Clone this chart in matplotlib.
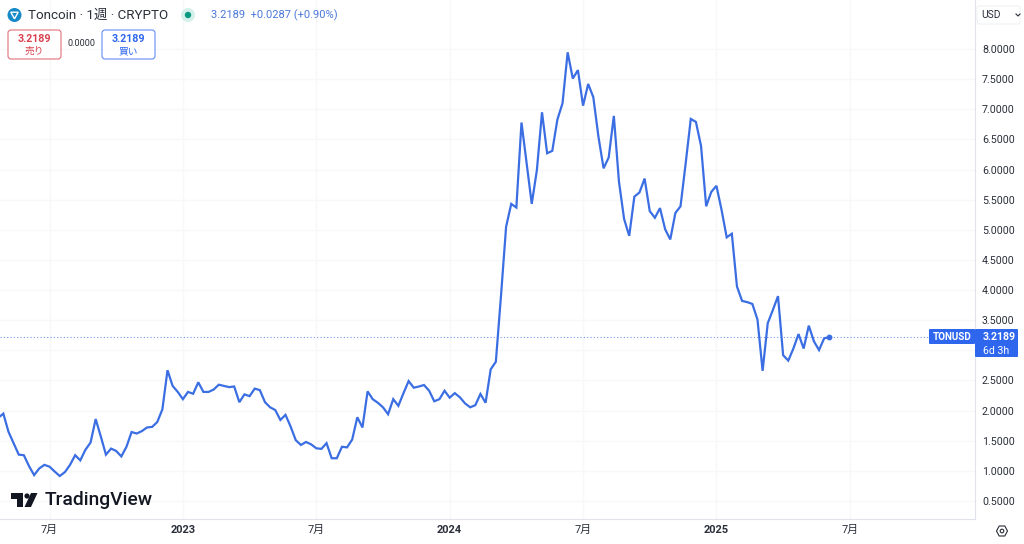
"""Toncoin weekly price chart, TradingView look."""

import matplotlib
matplotlib.use("Agg")
import matplotlib.pyplot as plt
from matplotlib.patches import Circle, FancyBboxPatch, Polygon

plt.rcParams["font.family"] = ["Roboto", "Noto Sans CJK JP", "DejaVu Sans"]

# weekly close, one value per bar
week_close = [
    1.88, 1.95, 1.65, 1.46, 1.27, 1.26, 1.08, 0.93, 1.04, 1.10,
    1.07, 0.99, 0.915, 0.98, 1.10, 1.26, 1.175, 1.35, 1.47, 1.86,
    1.57, 1.27, 1.37, 1.33, 1.24, 1.40, 1.645, 1.62, 1.66, 1.72,
    1.73, 1.81, 2.02, 2.67, 2.41, 2.31, 2.19, 2.31, 2.28, 2.47,
    2.31, 2.31, 2.35, 2.43, 2.41, 2.39, 2.40, 2.14, 2.27, 2.24,
    2.365, 2.34, 2.14, 2.055, 2.01, 1.845, 1.93, 1.735, 1.51, 1.43,
    1.48, 1.44, 1.375, 1.365, 1.46, 1.21, 1.21, 1.40, 1.39, 1.52,
    1.89, 1.72, 2.32, 2.19, 2.13, 2.055, 1.94, 2.19, 2.08, 2.29,
    2.49, 2.38, 2.40, 2.425, 2.33, 2.155, 2.19, 2.33, 2.215, 2.29,
    2.22, 2.12, 2.055, 2.09, 2.276, 2.13, 2.685, 2.81, 3.90, 5.05,
    5.43, 5.37, 6.78, 6.10, 5.43, 5.99, 6.95, 6.27, 6.31, 6.83,
    7.10, 7.945, 7.51, 7.65, 7.06, 7.42, 7.20, 6.545, 6.02, 6.20,
    6.89, 5.80, 5.18, 4.90, 5.55, 5.62, 5.85, 5.31, 5.20, 5.36,
    5.01, 4.84, 5.28, 5.39, 6.10, 6.84, 6.79, 6.39, 5.39, 5.63,
    5.73, 5.33, 4.875, 4.935, 4.06, 3.82, 3.80, 3.77, 3.51, 2.66,
    3.45, 3.67, 3.90, 2.92, 2.83, 3.03, 3.27, 3.03, 3.41, 3.15,
    3.005, 3.20, 3.2189,
]
last_price = 3.2189

# bar number of each time label (half-year steps)
x_tick_bars = [10, 36, 62, 88, 114, 140, 166]
x_tick_labels = ["7月", "2023", "7月", "2024", "7月", "2025", "7月"]
y_ticks = [0.5, 1.0, 1.5, 2.0, 2.5, 3.0, 3.5, 4.0, 4.5, 5.0, 5.5, 6.0, 6.5, 7.0, 7.5, 8.0]
# 3.0 sits behind the last price tag, so it gets no label
y_tick_labels = ["" if t == 3.0 else f"{t:.4f}" for t in y_ticks]

LINE = "#3b6ee3"
BLUE = "#2f66ee"
RED = "#d9414f"
TEXT = "#2a2e39"
GRID = "#f7f8fa"
EDGE = "#e0e3eb"

fig = plt.figure(figsize=(10.24, 5.44), dpi=100)
ax = fig.add_axes([0, 25 / 544, 975 / 1024, 519 / 544])

ax.plot(range(len(week_close)), week_close, color=LINE, linewidth=1.6, zorder=3,
        solid_joinstyle="miter")
ax.plot(len(week_close) - 1, last_price, "o", color=LINE, markersize=3.2, zorder=4)
ax.axhline(last_price, color=LINE, linestyle=(0, (1, 2)), linewidth=0.8, alpha=0.7, zorder=2)

ax.set_xlim(0.35, 190.4)
ax.set_ylim(0.2017, 8.813)
ax.set_yticks(y_ticks)
ax.set_yticklabels(y_tick_labels, fontsize=7.7, color=TEXT)
ax.yaxis.tick_right()
ax.set_xticks(x_tick_bars)
ax.set_xticklabels(x_tick_labels, fontsize=7.9, color=TEXT)
for lab in ax.get_xticklabels():
    if lab.get_text().isdigit():
        lab.set_fontweight("bold")
ax.tick_params(axis="both", length=0)
ax.tick_params(axis="y", pad=5)
ax.tick_params(axis="x", pad=4.5)
ax.grid(True, color=GRID, linewidth=1)
ax.set_axisbelow(True)
for side in ("top", "left"):
    ax.spines[side].set_visible(False)
for side in ("right", "bottom"):
    ax.spines[side].set_color(EDGE)

# overlay in pixel coordinates for the header, tags and logo
ov = fig.add_axes([0, 0, 1, 1], facecolor="none")
ov.set_xlim(0, 1024)
ov.set_ylim(544, 0)
ov.axis("off")

# symbol header
ov.add_patch(Circle((14.5, 15), 7, color="#1689c7", linewidth=0))
ov.add_patch(Polygon([(10.8, 12.2), (18.2, 12.2), (14.5, 18.8)], closed=True, fill=False,
                     edgecolor="white", linewidth=1))
ov.text(28, 15, "Toncoin · 1週 · CRYPTO", fontsize=9.6, color=TEXT, va="center")
ov.add_patch(Circle((188, 15), 7, color="#d5f0ea", linewidth=0))
ov.add_patch(Circle((188, 15), 3.2, color="#089981", linewidth=0))
ov.text(211, 15, "3.2189  +0.0287 (+0.90%)", fontsize=8, color="#4a78d8", va="center")

# sell / buy boxes
for x0, color, label in [(8, RED, "売り"), (102, BLUE, "買い")]:
    ov.add_patch(FancyBboxPatch((x0 + 3, 33), 47, 23, boxstyle="round,pad=3",
                                facecolor="white", edgecolor=color, linewidth=0.8, alpha=0.75))
    ov.text(x0 + 26.5, 38.5, f"{last_price:.4f}", fontsize=7.7, color=color, ha="center",
            va="center", fontweight="bold")
    ov.text(x0 + 26.5, 51, label, fontsize=7, color=color, ha="center", va="center")
ov.text(82, 44, "0.0000", fontsize=6.5, color=TEXT, ha="center", va="center")

# currency button
ov.add_patch(FancyBboxPatch((979, 8), 39, 14, boxstyle="round,pad=2",
                            facecolor="white", edgecolor="#f0f1f4", linewidth=0.8))
ov.text(981, 15, "USD", fontsize=7.4, color=TEXT, va="center")
ov.plot([1016, 1018, 1020], [14, 16, 14], color=TEXT, linewidth=0.8)

# last price tags
ov.add_patch(FancyBboxPatch((930, 330), 44, 13, boxstyle="round,pad=1",
                            facecolor=BLUE, edgecolor="none", zorder=5))
ov.add_patch(FancyBboxPatch((976, 330), 41, 26, boxstyle="round,pad=1",
                            facecolor=BLUE, edgecolor="none", zorder=5))
ov.text(952, 337, "TONUSD", fontsize=7.1, color="white", ha="center", va="center",
        fontweight="bold", zorder=6)
ov.text(983, 337, f"{last_price:.4f}", fontsize=7.6, color="white", va="center",
        fontweight="bold", zorder=6)
ov.text(983, 350.5, "6d 3h", fontsize=7.6, color="white", va="center", zorder=6)

# settings icon
ov.add_patch(Polygon([(996.5, 531), (999.2, 526), (1004.8, 526), (1007.5, 531),
                      (1004.8, 536), (999.2, 536)], closed=True, fill=False,
                     edgecolor=TEXT, linewidth=0.8))
ov.add_patch(Circle((1002, 531), 1.8, fill=False, edgecolor=TEXT, linewidth=0.8))

# TradingView mark and wordmark
ov.add_patch(Polygon([(11, 493), (23, 493), (23, 507), (17, 507), (17, 499), (11, 499)],
                     closed=True, color="#131722", linewidth=0))
ov.add_patch(Circle((27, 496), 2.6, color="#131722", linewidth=0))
ov.add_patch(Polygon([(31, 493), (37.5, 493), (31, 507), (24.5, 507)], closed=True,
                     color="#131722", linewidth=0))
ov.text(44.5, 500, "TradingView", fontsize=13.9, color="#131722", va="center",
        fontweight="medium")

fig.savefig("out.png", dpi=100)
